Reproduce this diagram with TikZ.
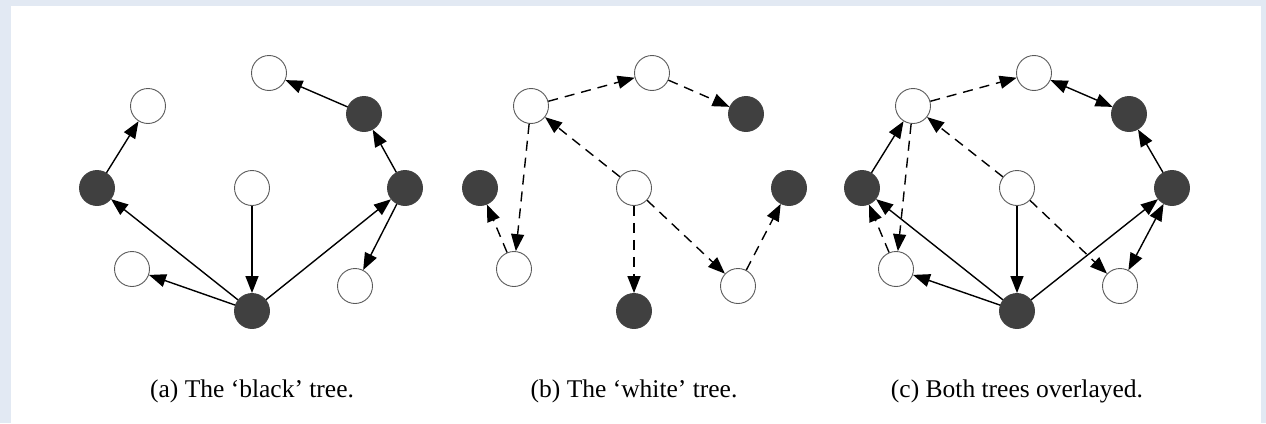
\documentclass[tikz,border=0pt]{standalone}
\usepackage{fontspec}
\setmainfont{Liberation Serif}
\usetikzlibrary{arrows.meta}
\definecolor{bgblue}{HTML}{E2E9F3}
\definecolor{nodedark}{HTML}{404040}
\definecolor{rimgray}{HTML}{5A5A5A}
\tikzset{
  wnode/.style={circle,draw=rimgray,line width=0.9pt,fill=white,minimum size=35pt,inner sep=0pt},
  bnode/.style={circle,fill=nodedark,draw=nodedark,line width=0.9pt,minimum size=35pt,inner sep=0pt},
  tip/.tip={Triangle[length=17pt,width=13pt]},
  sedge/.style={line width=1.4pt,-tip},
  dedge/.style={line width=1.4pt,dash pattern=on 10pt off 7pt,-tip},
  bedge/.style={line width=1.4pt,tip-tip},
  captext/.style={font=\fontsize{25.5}{30}\selectfont,anchor=base}
}
\begin{document}
\begin{tikzpicture}[x=1pt,y=-1pt]
\fill[bgblue] (0,0) rectangle (1266,423);
\fill[white] (11,6) rectangle (1261,423);
\useasboundingbox (0,0) rectangle (1266,423);
% ---------- (a) ----------
\node[wnode] (aT) at (269,73) {};
\node[wnode] (aUL) at (148,106) {};
\node[bnode] (aL) at (97,188) {};
\node[wnode] (aC) at (252,188) {};
\node[bnode] (aUR) at (364,114) {};
\node[bnode] (aR) at (405,188) {};
\node[wnode] (aLL) at (132,269) {};
\node[bnode] (aB) at (252,311) {};
\node[wnode] (aLR) at (355,286) {};
\draw[sedge] (aL) -- (aUL);
\draw[sedge] (aB) -- (aL);
\draw[sedge] (aB) -- (aLL);
\draw[sedge] (aC) -- (aB);
\draw[sedge] (aB) -- (aR);
\draw[sedge] (aR) -- (aUR);
\draw[sedge] (aUR) -- (aT);
\draw[sedge] (aR) -- (aLR);
\node[captext] (capa) at (252,397) {(a) The ‘black’ tree.};
% ---------- (b) ----------
\node[wnode] (bT) at (652,73) {};
\node[wnode] (bUL) at (531,106) {};
\node[bnode] (bL) at (480,188) {};
\node[wnode] (bC) at (634,188) {};
\node[bnode] (bUR) at (746,114) {};
\node[bnode] (bR) at (789,188) {};
\node[wnode] (bLL) at (514,269) {};
\node[bnode] (bB) at (634,311) {};
\node[wnode] (bLR) at (738,286) {};
\draw[dedge] (bUL) -- (bT);
\draw[dedge] (bT) -- (bUR);
\draw[dedge] (bC) -- (bUL);
\draw[dedge] (bUL) -- (bLL);
\draw[dedge] (bLL) -- (bL);
\draw[dedge] (bC) -- (bB);
\draw[dedge] (bC) -- (bLR);
\draw[dedge] (bLR) -- (bR);
\node[captext] (capb) at (634,397) {(b) The ‘white’ tree.};
% ---------- (c) ----------
\node[wnode] (cT) at (1034,73) {};
\node[wnode] (cUL) at (913,106) {};
\node[bnode] (cL) at (862,188) {};
\node[wnode] (cC) at (1017,188) {};
\node[bnode] (cUR) at (1129,114) {};
\node[bnode] (cR) at (1172,188) {};
\node[wnode] (cLL) at (896,269) {};
\node[bnode] (cB) at (1017,311) {};
\node[wnode] (cLR) at (1120,286) {};
\draw[sedge] (cL) -- (cUL);
\draw[sedge] (cB) -- (cL);
\draw[sedge] (cB) -- (cLL);
\draw[sedge] (cC) -- (cB);
\draw[sedge] (cB) -- (cR);
\draw[sedge] (cR) -- (cUR);
\draw[bedge] (cUR) -- (cT);
\draw[bedge] (cR) -- (cLR);
\draw[dedge] (cUL) -- (cT);
\draw[dedge] (cC) -- (cUL);
\draw[dedge] (cUL) -- (cLL);
\draw[dedge] (cLL) -- (cL);
\draw[dedge] (cC) -- (cLR);
\node[captext] (capc) at (1017,397) {(c) Both trees overlayed.};
\end{tikzpicture}
\end{document}
